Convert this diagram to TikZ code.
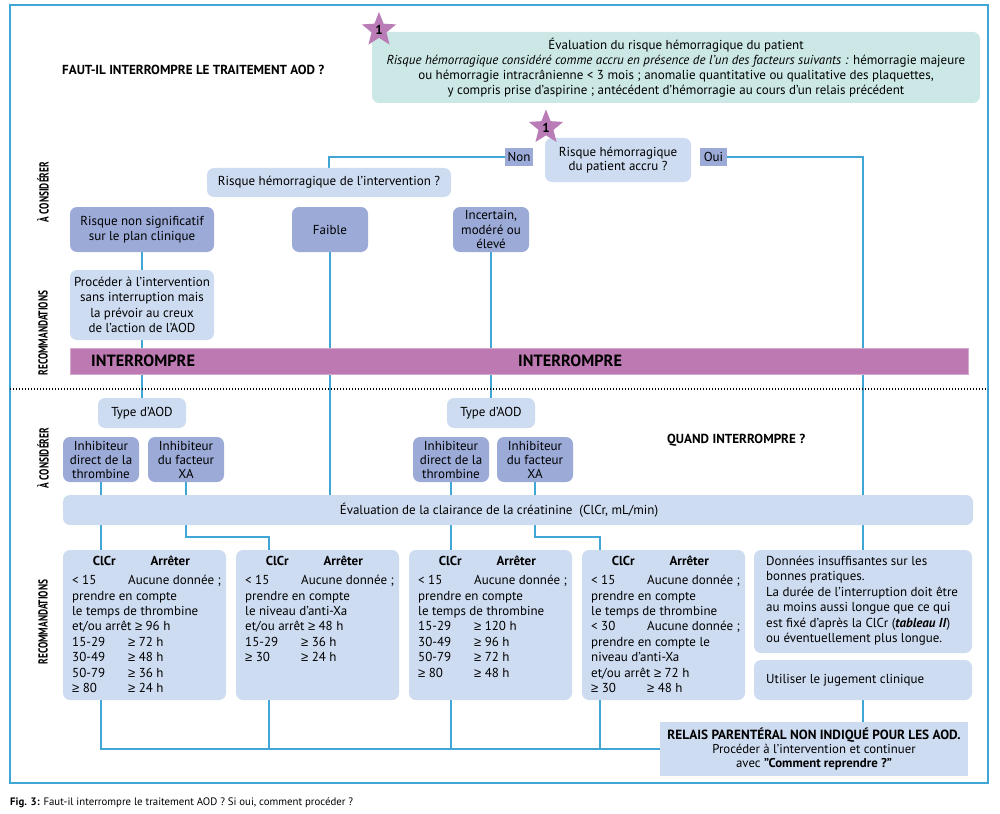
\documentclass[tikz,border=0pt]{standalone}
\usepackage{fontspec}
\setmainfont{PT Sans}
\newfontfamily\symf{Liberation Sans}
\usetikzlibrary{shapes.geometric,backgrounds,calc}
\definecolor{lineblue}{RGB}{64,166,214}
\definecolor{tealc}{RGB}{204,232,230}
\definecolor{lblue}{RGB}{206,220,241}
\definecolor{mblue}{RGB}{156,170,216}
\definecolor{barc}{RGB}{189,122,178}
\definecolor{barl}{RGB}{214,170,206}
\definecolor{starc}{RGB}{185,124,182}
\newcommand\fs[2]{\fontsize{#1}{#2}\selectfont}
\newcommand\gq{{\symf ≥}}
\newcommand\mybx[6]{\node[#1, minimum width={(#5-#3)*1pt}, minimum height={(#6-#4)*1pt}] (#2) at ({(#3+#5)/2},{(#4+#6)/2})}
\newcommand\hd{\textbf{\makebox[64pt]{ClCr}\makebox[68pt]{Arrêter}}}
\newcommand\cc[1]{\makebox[56pt][l]{#1}}
\tikzset{
  conn/.style={draw=lineblue, line width=2pt},
  lbox/.style={fill=lblue, rounded corners=7pt, inner sep=0pt, align=center, font=\fs{13}{14.6}},
  mbox/.style={fill=mblue, rounded corners=7pt, inner sep=0pt, align=center, font=\fs{13}{14.6}},
  tbox/.style={fill=tealc, rounded corners=7pt, inner sep=0pt, align=center, font=\fs{13}{15}},
  sqbox/.style={fill=mblue, inner sep=0pt, font=\fs{13}{14}},
  rbox/.style={fill=lblue, inner sep=0pt, align=center, font=\fs{12.8}{14}},
  barbox/.style={fill=barc, draw=barl, line width=0.6pt, inner sep=0pt},
  cl/.style={anchor=north west, inner sep=0pt, align=left, font=\fs{13}{15.4}},
  side/.style={rotate=90, inner sep=0pt, font=\bfseries\fs{13}{13}},
  starn/.style={star, star points=5, star point ratio=2.3, minimum size=36pt, inner sep=0pt, fill=starc, font=\bfseries\fs{13}{13}},
  head/.style={inner sep=0pt, font=\bfseries\fs{13.1}{14}},
  bartext/.style={inner sep=0pt, anchor=west, font=\bfseries\fs{16.3}{16}}
}
\begin{document}
\begin{tikzpicture}[x=1pt,y=-1pt]
\useasboundingbox (0,0) rectangle (1000,813);
\draw[lineblue, line width=2pt] (10,5) rectangle (988,783);

% headings
\node[head, anchor=west] (title) at (62,70) {FAUT-IL INTERROMPRE LE TRAITEMENT AOD ?};
\node[head, anchor=west] (quand) at (667,440) {QUAND INTERROMPRE ?};

% top part
\mybx{tbox}{tealbox}{372}{32}{980}{103}{Évaluation du risque hémorragique du patient\\\textit{Risque hémorragique considéré comme accru en présence de l'un des facteurs suivants :} hémorragie majeure\\ou hémorragie intracrânienne < 3 mois ; anomalie quantitative ou qualitative des plaquettes,\\y compris prise d'aspirine ; antécédent d'hémorragie au cours d'un relais précédent};
\mybx{lbox}{patient}{545}{138}{691}{182}{Risque hémorragique\\du patient accru ?};
\mybx{sqbox}{non}{505}{148}{533}{166}{Non};
\mybx{sqbox}{oui}{700}{148}{727}{166}{Oui};
\mybx{lbox}{interv}{207}{168}{451}{197}{Risque hémorragique de l'intervention ?};
\mybx{mbox}{nonsig}{70}{207}{214}{252}{Risque non significatif\\sur le plan clinique};
\mybx{mbox}{faible}{292}{207}{368}{252}{Faible};
\mybx{mbox}{incert}{453}{207}{529}{252}{Incertain,\\modéré ou\\élevé};
\mybx{lbox, font=\fs{13}{15.4}}{proceder}{70}{270}{214}{340}{Procéder à l'intervention\\sans interruption mais\\la prévoir au creux\\de l'action de l'AOD};
\mybx{barbox}{bar}{70}{348}{968}{374}{};
\node[bartext] (int1) at (91,361) {INTERROMPRE};
\node[bartext] (int2) at (518,361) {INTERROMPRE};

\draw[line width=1.1pt, dash pattern=on 1.2pt off 1.8pt] (10,389) -- (988,389);

% side labels
\node[side] (s1) at (43,192) {\scalebox{0.72}[1]{À CONSIDÉRER}};
\node[side] (s2) at (43,333) {\scalebox{0.72}[1]{RECOMMANDATIONS}};
\node[side] (s3) at (43,458) {\scalebox{0.72}[1]{À CONSIDÉRER}};
\node[side] (s4) at (43,622) {\scalebox{0.72}[1]{RECOMMANDATIONS}};

% lower part
\mybx{lbox}{typeL}{98}{398}{186}{428}{Type d'AOD};
\mybx{lbox}{typeR}{447}{398}{535}{428}{Type d'AOD};
\mybx{mbox, font=\fs{13}{14}}{L1}{63}{437}{139}{482}{Inhibiteur\\direct de la\\thrombine};
\mybx{mbox, font=\fs{13}{14}}{L2}{148}{437}{224}{482}{Inhibiteur\\du facteur\\XA};
\mybx{mbox, font=\fs{13}{14}}{R1}{413}{437}{489}{482}{Inhibiteur\\direct de la\\thrombine};
\mybx{mbox, font=\fs{13}{14}}{R2}{497}{437}{573}{482}{Inhibiteur\\du facteur\\XA};
\mybx{lbox}{eval}{63}{495}{973}{525}{Évaluation de la clairance de la créatinine~ (ClCr, mL/min)\hspace*{38pt}};

\mybx{lbox}{B1}{63}{550}{226}{700}{};
\mybx{lbox}{B2}{236}{550}{399}{700}{};
\mybx{lbox}{B3}{409}{550}{572}{700}{};
\mybx{lbox}{B4}{582}{550}{745}{700}{};
\mybx{lbox}{donnees}{754}{550}{972}{653}{};
\mybx{lbox}{utiliser}{754}{660}{972}{700}{};
\mybx{rbox}{relais}{660}{722}{968}{776}{{\fs{13.3}{14}\textbf{RELAIS PARENTÉRAL NON INDIQUÉ POUR LES AOD.}}\\Procéder à l'intervention et continuer\\avec \textbf{"Comment reprendre ?"}};

\node[cl] (t1) at (72,556) {\hd\\[3.6pt]
\cc{< 15}Aucune donnée ;\\
prendre en compte\\
le temps de thrombine\\
et/ou arrêt \gq{} 96 h\\
\cc{15-29}\gq{} 72 h\\
\cc{30-49}\gq{} 48 h\\
\cc{50-79}\gq{} 36 h\\
\cc{\gq{} 80}\gq{} 24 h};
\node[cl] (t2) at (245,556) {\hd\\[3.6pt]
\cc{< 15}Aucune donnée ;\\
prendre en compte\\
le niveau d'anti-Xa\\
et/ou arrêt \gq{} 48 h\\
\cc{15-29}\gq{} 36 h\\
\cc{\gq{} 30}\gq{} 24 h};
\node[cl] (t3) at (418,556) {\hd\\[3.6pt]
\cc{< 15}Aucune donnée ;\\
prendre en compte\\
le temps de thrombine\\
\cc{15-29}\gq{} 120 h\\
\cc{30-49}\gq{} 96 h\\
\cc{50-79}\gq{} 72 h\\
\cc{\gq{} 80}\gq{} 48 h};
\node[cl] (t4) at (591,556) {\hd\\[3.6pt]
\cc{< 15}Aucune donnée ;\\
prendre en compte\\
le temps de thrombine\\
\cc{< 30}Aucune donnée ;\\
prendre en compte le\\
niveau d'anti-Xa\\
et/ou arrêt \gq{} 72 h\\
\cc{\gq{} 30}\gq{} 48 h};
\node[cl] (t5) at (766,556) {Données insuffisantes sur les\\
bonnes pratiques.\\
La durée de l'interruption doit être\\
au moins aussi longue que ce qui\\
est fixé d'après la ClCr (\textbf{\textit{tableau II}})\\
ou éventuellement plus longue.};
\node[cl, anchor=west] (t6) at (766,680) {Utiliser le jugement clinique};

% stars
\node[starn] (star1) at (379,30) {1};
\node[starn] (star2) at (546,127.5) {1};

% connectors
\begin{scope}[on background layer]
\fill[white] (0,0) rectangle (1000,813);
\coordinate (k2) at (269,537);
\coordinate (k4) at (600,537);
\draw[conn] (non.west) -| (interv.north);
\draw[conn] (oui.east) -| (donnees.north);
\draw[conn] (utiliser.south) -- (utiliser.south |- relais.north);
\draw[conn] (nonsig.south) -- (typeL.north);
\draw[conn] (faible.south) -- (faible.south |- eval.north);
\draw[conn] (incert.south) -- (incert.south |- typeR.north);
\draw[conn] (L1.south) -- (L1.south |- B1.north);
\draw[conn] (L2.south) |- (k2) -- (k2 |- B2.north);
\draw[conn] (R1.south) -- (R1.south |- B3.north);
\draw[conn] (R2.south) |- (k4) -- (k4 |- B4.north);
\draw[conn] (L1.south |- B1.south) |- (relais.west);
\draw[conn] (k2 |- B2.south) -- (k2 |- relais.west);
\draw[conn] (R1.south |- B3.south) -- (R1.south |- relais.west);
\draw[conn] (k4 |- B4.south) -- (k4 |- relais.west);
\end{scope}

% caption
\node[inner sep=0pt, anchor=west, font=\fs{10.8}{12}] (caption) at (10,803) {\textbf{Fig. 3:} Faut-il interrompre le traitement AOD ? Si oui, comment procéder ?};
\end{tikzpicture}
\end{document}
